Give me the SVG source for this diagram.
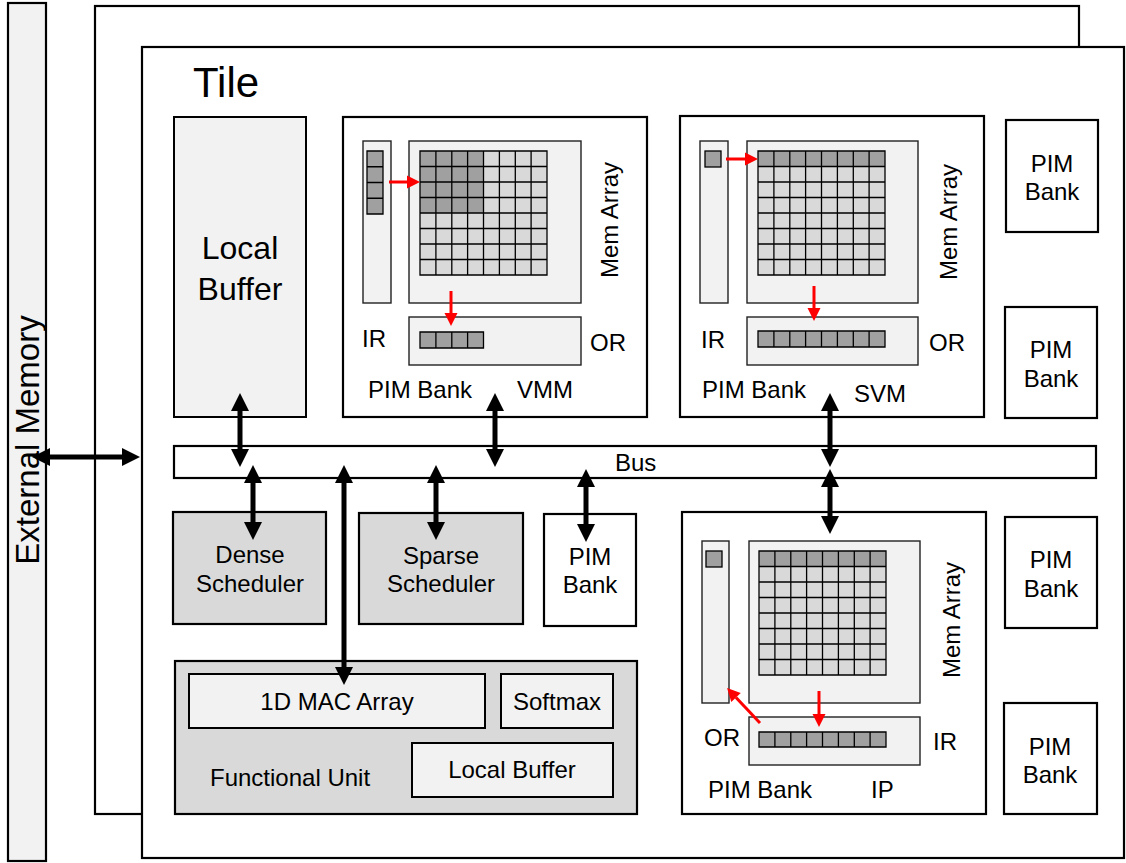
<svg xmlns="http://www.w3.org/2000/svg" width="1126" height="863" viewBox="0 0 1126 863">
  <defs>
    <style>
      text { font-family: "Liberation Sans", Arial, sans-serif; fill: #000; }
      .lbl { font-size: 24px; }
      .mid { text-anchor: middle; }
      .box { fill: #fff; stroke: #000; stroke-width: 2.2; }
      .pale { fill: #f2f2f2; stroke: #000; stroke-width: 2; }
      .grey { fill: #d9d9d9; stroke: #000; stroke-width: 2.2; }
      .thin { fill: #f2f2f2; stroke: #222; stroke-width: 1.4; }
      .cellL { fill: #d9d9d9; }
      .cellD { fill: #a0a0a0; }
      .grid { fill: none; stroke: #000; stroke-width: 1.3; }
      .bus { stroke: #000; stroke-width: 5; fill: none; marker-start: url(#bh); marker-end: url(#bh); }
      .red { stroke: #ff0000; stroke-width: 3; fill: none; marker-end: url(#rh); }
    </style>
    <marker id="bh" markerUnits="userSpaceOnUse" markerWidth="18" markerHeight="18" refX="0" refY="9" orient="auto-start-reverse" overflow="visible">
      <path d="M0,0 L18,9 L0,18 z" fill="#000"/>
    </marker>
    <marker id="rh" markerUnits="userSpaceOnUse" markerWidth="13" markerHeight="13" refX="0" refY="6.5" orient="auto" overflow="visible">
      <path d="M0,0 L13,6.5 L0,13 z" fill="#ff0000"/>
    </marker>
    <!-- 8x8 grid lines, origin at top-left of the cell block -->
    <path id="grid8" d="M0,0 H127 V124 H0 Z M15.9,0 V124 M31.8,0 V124 M47.6,0 V124 M63.5,0 V124 M79.4,0 V124 M95.3,0 V124 M111.1,0 V124 M0,15.5 H127 M0,31 H127 M0,46.5 H127 M0,62 H127 M0,77.5 H127 M0,93 H127 M0,108.5 H127"/>
  </defs>

  <rect width="1126" height="863" fill="#fff"/>

  <!-- external memory -->
  <g id="external-memory">
    <rect x="8" y="3" width="38" height="858" fill="#f2f2f2" stroke="#000" stroke-width="2.2"/>
    <text class="mid" font-size="33" transform="translate(39,440) rotate(-90)">External Memory</text>
  </g>

  <!-- stacked tiles -->
  <g id="tile-back">
    <rect x="95" y="6" width="984" height="808" class="box" stroke-width="2.5"/>
  </g>
  <g id="tile">
    <rect x="142" y="47" width="982" height="811" class="box" stroke-width="2.5"/>
    <text x="193" y="97" font-size="42">Tile</text>
  </g>

  <g id="local-buffer">
    <rect x="174" y="117" width="132" height="300" class="pale" stroke-width="2.2"/>
    <text class="mid" x="240" y="259" font-size="32">Local</text>
    <text class="mid" x="240" y="300" font-size="32">Buffer</text>
  </g>

  <!-- PIM bank: vector-matrix multiply -->
  <g id="pim-vmm">
    <rect x="343" y="117" width="304" height="300" class="box"/>
    <rect x="363" y="141" width="28" height="162" class="thin"/>
    <rect x="367" y="151" width="16" height="63" class="cellD"/>
    <path class="grid" d="M367,151 h16 v63 h-16 z M367,166.75 h16 M367,182.5 h16 M367,198.25 h16"/>
    <rect x="409" y="141" width="172" height="162" class="thin"/>
    <rect x="420" y="151" width="127" height="124" class="cellL"/>
    <rect x="420" y="151" width="63.5" height="62" class="cellD"/>
    <use href="#grid8" x="420" y="151" class="grid"/>
    <rect x="409" y="317" width="172" height="48" class="thin"/>
    <rect x="420" y="332" width="63.5" height="16" class="cellD"/>
    <path class="grid" d="M420,332 h63.5 v16 h-63.5 z M435.9,332 v16 M451.8,332 v16 M467.6,332 v16"/>
    <line class="red" x1="389" y1="182" x2="407" y2="182"/>
    <line class="red" x1="451" y1="291" x2="451" y2="313"/>
    <text class="lbl" x="362" y="347">IR</text>
    <text class="lbl" x="590" y="351">OR</text>
    <text class="lbl mid" transform="translate(618,220) rotate(-90)">Mem Array</text>
    <text class="lbl" x="368" y="398">PIM Bank</text>
    <text class="lbl" x="517" y="398">VMM</text>
  </g>

  <!-- PIM bank: sparse vector-matrix multiply -->
  <g id="pim-svm">
    <rect x="680" y="116" width="304" height="301" class="box"/>
    <rect x="700" y="141" width="28" height="162" class="thin"/>
    <rect x="705" y="151" width="16" height="16" class="cellD" stroke="#000" stroke-width="1.3"/>
    <rect x="747" y="141" width="171" height="162" class="thin"/>
    <rect x="758" y="151" width="127" height="124" class="cellL"/>
    <rect x="758" y="151" width="127" height="15.5" class="cellD"/>
    <use href="#grid8" x="758" y="151" class="grid"/>
    <rect x="747" y="317" width="171" height="48" class="thin"/>
    <rect x="758" y="331" width="127" height="16" class="cellD"/>
    <path class="grid" d="M758,331 h127 v16 h-127 z M773.9,331 v16 M789.8,331 v16 M805.6,331 v16 M821.5,331 v16 M837.4,331 v16 M853.3,331 v16 M869.1,331 v16"/>
    <line class="red" x1="726" y1="159" x2="745" y2="159"/>
    <line class="red" x1="814" y1="286" x2="814" y2="308"/>
    <text class="lbl" x="701" y="348">IR</text>
    <text class="lbl" x="929" y="351">OR</text>
    <text class="lbl mid" transform="translate(957,222) rotate(-90)">Mem Array</text>
    <text class="lbl" x="702" y="398">PIM Bank</text>
    <text class="lbl" x="854" y="402">SVM</text>
  </g>

  <!-- PIM bank: inner product -->
  <g id="pim-ip">
    <rect x="682" y="512" width="304" height="302" class="box"/>
    <rect x="702" y="541" width="27" height="162" class="thin"/>
    <rect x="706" y="551" width="16" height="16" class="cellD" stroke="#000" stroke-width="1.3"/>
    <rect x="749" y="541" width="171" height="162" class="thin"/>
    <rect x="759" y="551" width="127" height="124" class="cellL"/>
    <rect x="759" y="551" width="127" height="15.5" class="cellD"/>
    <use href="#grid8" x="759" y="551" class="grid"/>
    <rect x="749" y="717" width="171" height="48" class="thin"/>
    <rect x="759" y="732" width="127" height="15" class="cellD"/>
    <path class="grid" d="M759,732 h127 v15 h-127 z M774.9,732 v15 M790.8,732 v15 M806.6,732 v15 M822.5,732 v15 M838.4,732 v15 M854.3,732 v15 M870.1,732 v15"/>
    <line class="red" x1="819" y1="691" x2="819" y2="714"/>
    <line class="red" x1="760" y1="723" x2="736" y2="697.5"/>
    <text class="lbl" x="704" y="746">OR</text>
    <text class="lbl" x="933" y="750">IR</text>
    <text class="lbl mid" transform="translate(960,620) rotate(-90)">Mem Array</text>
    <text class="lbl" x="708" y="798">PIM Bank</text>
    <text class="lbl" x="871" y="798">IP</text>
  </g>

  <g id="pim-bank-1">
    <rect x="1006" y="120" width="92" height="112" class="box"/>
    <text class="lbl mid" x="1052" y="172">PIM</text>
    <text class="lbl mid" x="1052" y="200">Bank</text>
  </g>
  <g id="pim-bank-2">
    <rect x="1005" y="307" width="92" height="111" class="box"/>
    <text class="lbl mid" x="1051" y="358">PIM</text>
    <text class="lbl mid" x="1051" y="387">Bank</text>
  </g>
  <g id="pim-bank-3">
    <rect x="1005" y="517" width="92" height="111" class="box"/>
    <text class="lbl mid" x="1051" y="568">PIM</text>
    <text class="lbl mid" x="1051" y="597">Bank</text>
  </g>
  <g id="pim-bank-4">
    <rect x="1004" y="703" width="93" height="111" class="box"/>
    <text class="lbl mid" x="1050" y="755">PIM</text>
    <text class="lbl mid" x="1050" y="783">Bank</text>
  </g>

  <g id="bus">
    <rect x="174" y="446" width="922" height="32" class="box"/>
    <text class="lbl" x="615" y="471">Bus</text>
  </g>

  <g id="dense-scheduler">
    <rect x="173" y="512" width="153" height="112" class="grey"/>
    <text class="lbl mid" x="250" y="563">Dense</text>
    <text class="lbl mid" x="250" y="592">Scheduler</text>
  </g>
  <g id="sparse-scheduler">
    <rect x="359" y="513" width="164" height="111" class="grey"/>
    <text class="lbl mid" x="441" y="564">Sparse</text>
    <text class="lbl mid" x="441" y="592">Scheduler</text>
  </g>
  <g id="pim-bank-5">
    <rect x="544" y="514" width="92" height="112" class="box"/>
    <text class="lbl mid" x="590" y="565">PIM</text>
    <text class="lbl mid" x="590" y="593">Bank</text>
  </g>

  <g id="functional-unit">
    <rect x="175" y="661" width="462" height="153" class="grey"/>
    <rect x="189" y="674" width="296" height="54" class="pale"/>
    <text class="lbl mid" x="337" y="710">1D MAC Array</text>
    <rect x="501" y="674" width="112" height="54" class="pale"/>
    <text class="lbl mid" x="557" y="710">Softmax</text>
    <rect x="412" y="743" width="201" height="54" class="pale"/>
    <text class="lbl mid" x="512" y="778">Local Buffer</text>
    <text class="lbl" x="210" y="786">Functional Unit</text>
  </g>

  <!-- bidirectional links; each line stops one head length short of its tips -->
  <g id="connectors">
    <line class="bus" x1="50" y1="457" x2="122" y2="457"/>
    <line class="bus" x1="240" y1="411" x2="240" y2="449"/>
    <line class="bus" x1="495" y1="411" x2="495" y2="449"/>
    <line class="bus" x1="830" y1="411" x2="830" y2="449"/>
    <line class="bus" x1="830" y1="487" x2="830" y2="516"/>
    <line class="bus" x1="253" y1="483" x2="253" y2="522"/>
    <line class="bus" x1="436" y1="483" x2="436" y2="522"/>
    <line class="bus" x1="586" y1="487" x2="586" y2="524"/>
    <line class="bus" x1="344" y1="483" x2="344" y2="667"/>
  </g>
</svg>
